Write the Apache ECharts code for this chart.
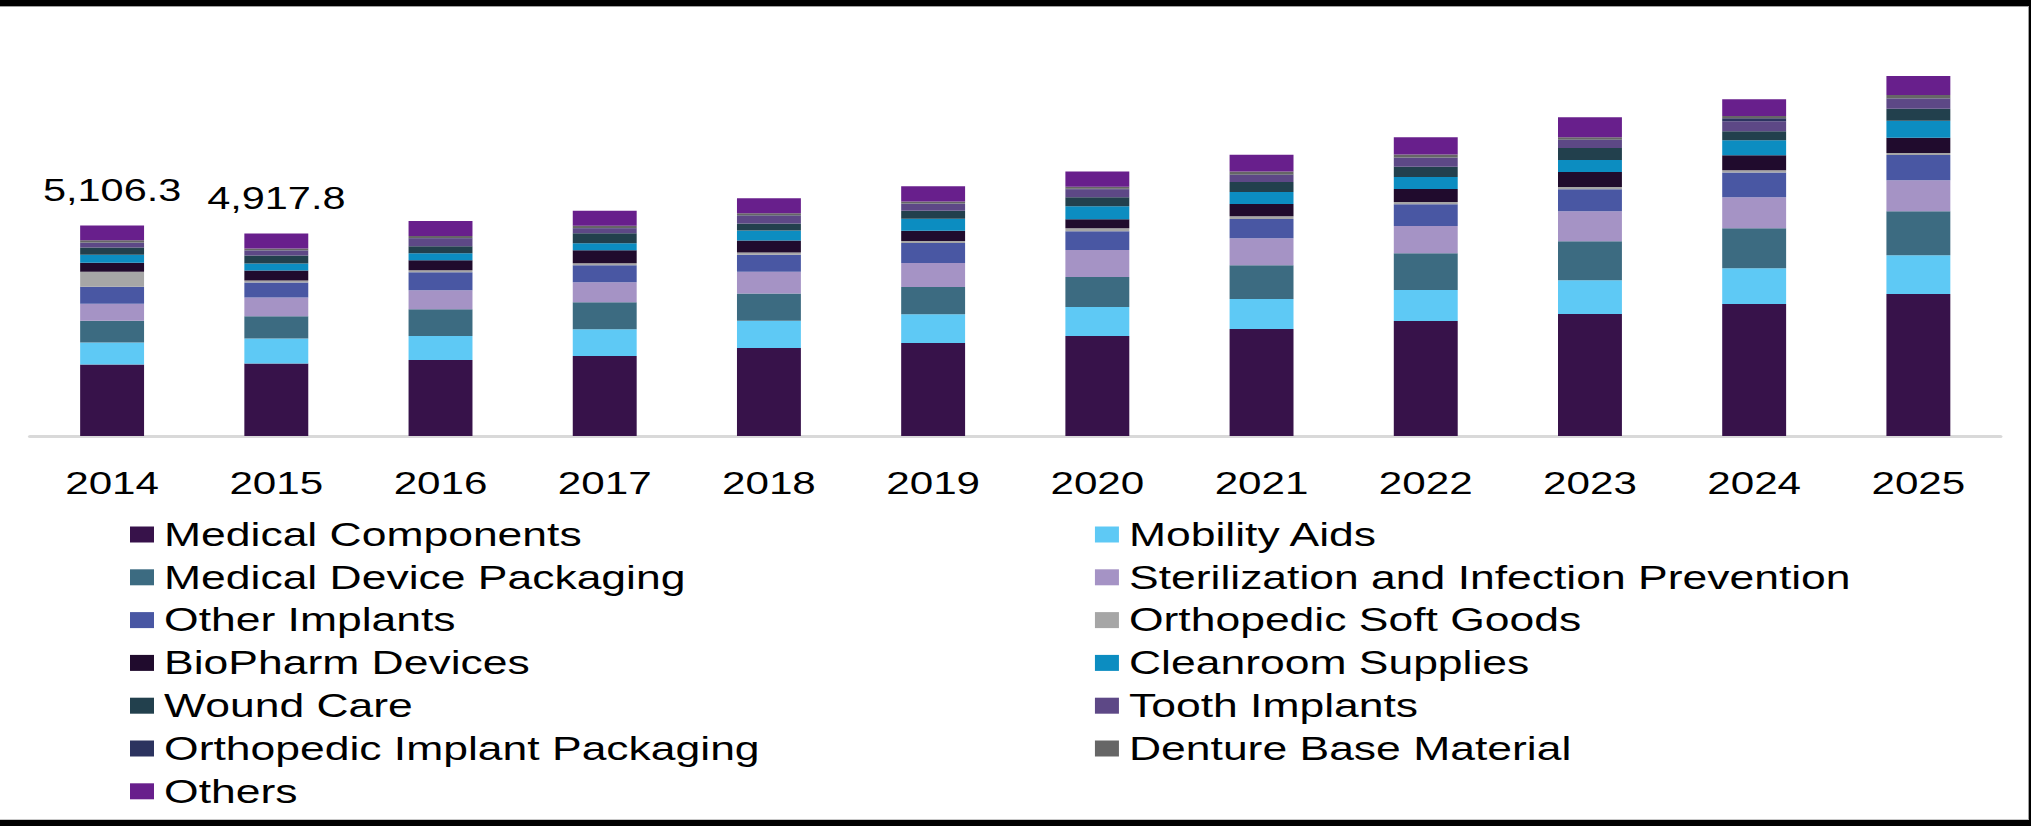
<!DOCTYPE html>
<html>
<head>
<meta charset="utf-8">
<script src="https://cdn.jsdelivr.net/npm/echarts@6/dist/echarts.min.js"></script>
<style>
  html, body { margin: 0; padding: 0; background: #ffffff; }
  #wrap { position: relative; width: 2031px; height: 826px; overflow: hidden; background: #ffffff; }
  #chart { position: absolute; left: 0; top: 0; width: 1493.38px; height: 826px;
           transform: scaleX(1.36); transform-origin: 0 0; }
  #frame { position: absolute; left: 0; top: 0; width: 2031px; height: 826px; box-sizing: border-box;
           border-top: 6px solid #000; border-bottom: 6px solid #000; border-right: 2px solid #000;
           pointer-events: none; }
  #frame2 { position: absolute; left: 0; top: 6px; width: 2029px; height: 814px; box-sizing: border-box;
            border-top: 1px solid #a0a0a0; border-bottom: 1px solid #c8c8c8; border-right: 1px solid #a0a0a0;
            pointer-events: none; }
</style>
</head>
<body>
<div id="wrap">
  <div id="chart"></div>
  <div id="frame2"></div>
  <div id="frame"></div>
</div>
<script>
const years = ['2014','2015','2016','2017','2018','2019','2020','2021','2022','2023','2024','2025'];

const seriesNames = [
  'Medical Components', 'Mobility Aids',
  'Medical Device Packaging', 'Sterilization and Infection Prevention',
  'Other Implants', 'Orthopedic Soft Goods',
  'BioPharm Devices', 'Cleanroom Supplies',
  'Wound Care', 'Tooth Implants',
  'Orthopedic Implant Packaging', 'Denture Base Material',
  'Others'
];

const medicalComponents          = [1733.8, 1761.4, 1843.0, 1940.2, 2134.0, 2255.3, 2425.1, 2594.8, 2788.9, 2958.5, 3201.0, 3443.6];
const mobilityAids               = [533.5, 606.3, 582.0, 650.2, 661.4, 698.7, 708.9, 727.5, 751.8, 824.5, 873.0, 945.8];
const medicalDevicePackaging     = [528.6, 537.2, 648.9, 656.3, 661.0, 664.5, 727.5, 824.5, 897.3, 945.8, 970.0, 1067.0];
const sterilizationInfection     = [412.3, 458.6, 462.9, 485.0, 531.2, 582.0, 650.4, 655.1, 657.9, 727.5, 749.6, 753.8];
const otherImplants              = [412.3, 363.8, 436.5, 410.6, 414.2, 485.0, 458.9, 462.7, 531.6, 535.4, 604.2, 608.5];
const orthopedicSoftGoods        = [363.8, 47.9, 48.6, 49.2, 49.8, 50.3, 70.1, 71.5, 51.2, 51.9, 52.5, 53.0];
const bioPharmDevices            = [218.3, 240.7, 244.1, 315.3, 291.0, 246.2, 220.4, 293.5, 315.3, 361.2, 364.9, 367.6];
const cleanroomSupplies          = [194.0, 168.2, 170.5, 172.9, 242.5, 289.4, 315.3, 292.8, 294.6, 296.1, 363.8, 412.3];
const woundCare                  = [177.0, 194.0, 169.8, 242.5, 171.4, 194.0, 218.3, 240.9, 244.6, 291.0, 218.3, 293.2];
const toothImplants              = [114.0, 121.3, 194.0, 121.3, 192.4, 169.8, 195.7, 171.6, 218.3, 194.0, 240.8, 244.1];
const orthopedicImplantPackaging = [6.1, 6.4, 6.8, 7.2, 7.7, 8.1, 8.6, 9.2, 9.8, 10.4, 72.8, 11.6];
const dentureBaseMaterial        = [55.8, 48.2, 48.9, 49.5, 50.1, 50.7, 51.3, 72.8, 73.5, 52.6, 53.2, 74.9];
const others                     = [356.8, 363.8, 362.1, 365.4, 364.7, 366.2, 367.0, 412.3, 414.5, 485.0, 412.3, 460.8];

const totalLabels = [5106.3, 4917.8];

const seriesValues = [
  medicalComponents, mobilityAids, medicalDevicePackaging, sterilizationInfection,
  otherImplants, orthopedicSoftGoods, bioPharmDevices, cleanroomSupplies,
  woundCare, toothImplants, orthopedicImplantPackaging, dentureBaseMaterial, others
];

const colors = [
  '#37124a', '#5ec9f5', '#3c6b81', '#a593c5',
  '#4957a3', '#a6a6a6', '#200b2d', '#0c8dc1',
  '#22404d', '#5d4886', '#2c335f', '#666666', '#681f8c'
];

const FONT = "'Liberation Sans', Arial, sans-serif";

const series = seriesNames.map((name, i) => {
  const s = {
    name: name,
    type: 'bar',
    stack: 'total',
    barWidth: 47,
    itemStyle: { color: colors[i] },
    emphasis: { disabled: true },
    data: seriesValues[i]
  };
  if (i === seriesNames.length - 1) {
    s.label = {
      show: true,
      position: 'top',
      distance: 19.5,
      color: '#000000',
      fontFamily: FONT,
      fontSize: 30.5,
      formatter: function (p) {
        const v = totalLabels[p.dataIndex];
        if (v === undefined) return '';
        return v.toLocaleString('en-US', { minimumFractionDigits: 1, maximumFractionDigits: 1 });
      }
    };
  }
  return s;
});

const legendCommon = {
  orient: 'vertical',
  top: 518,
  padding: 0,
  itemGap: 9.8,
  itemWidth: 17.65,
  itemHeight: 16,
  icon: 'rect',
  selectedMode: false,
  textStyle: { color: '#000000', fontFamily: FONT, fontSize: 32.7, lineHeight: 32, padding: [0, 0, 0, 2.4] }
};

const chart = echarts.init(document.getElementById('chart'), null, { renderer: 'svg' });
chart.setOption({
  animation: false,
  backgroundColor: 'transparent',
  color: colors,
  grid: { left: 22.06, right: 22.06, top: 24, bottom: 390, containLabel: false },
  xAxis: {
    type: 'category',
    data: years,
    axisTick: { show: false },
    axisLine: { show: true, lineStyle: { color: '#d9d9d9', width: 3 } },
    axisLabel: { color: '#000000', fontFamily: FONT, fontSize: 31, margin: 32.5 }
  },
  yAxis: {
    type: 'value',
    min: 0,
    max: 10000,
    show: false,
    splitLine: { show: false }
  },
  legend: [
    Object.assign({}, legendCommon, {
      left: 95.6,
      data: seriesNames.filter((n, i) => i % 2 === 0)
    }),
    Object.assign({}, legendCommon, {
      left: 805.1,
      data: seriesNames.filter((n, i) => i % 2 === 1)
    })
  ],
  series: series
});
</script>
</body>
</html>
